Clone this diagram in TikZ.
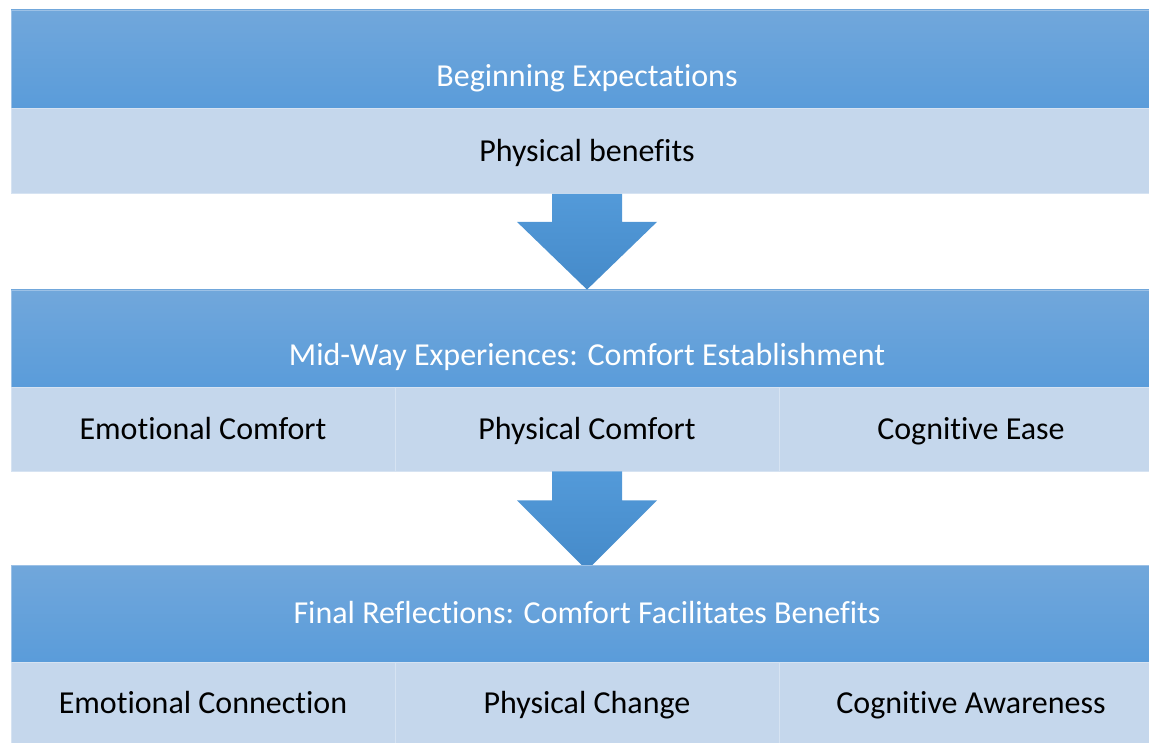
\documentclass[tikz,border=0pt]{standalone}
\usepackage{fontspec}
\setmainfont{Carlito}[Ligatures=NoCommon]
\usepackage{tikz}
\usetikzlibrary{calc}
\definecolor{headtop}{HTML}{71A7DB}
\definecolor{headbot}{HTML}{5A9CDA}
\definecolor{cellfill}{HTML}{C5D7EC}
\definecolor{cellline}{HTML}{D6E3F2}
\definecolor{arrowtop}{HTML}{539AD9}
\definecolor{arrowbot}{HTML}{458AC9}
\tikzstyle{header} = [rectangle, inner sep=0, top color=headtop, bottom color=headbot, draw=headtop!70!white, line width=0.8pt, minimum width=1152pt]
\tikzstyle{headtext} = [inner sep=0, text=white, text height=22pt, text depth=7pt, font=\fontsize{32}{38}\selectfont]
\tikzstyle{cell} = [rectangle, inner sep=0, fill=cellfill, draw=cellline, line width=0.8pt, text=black, text height=22pt, text depth=1pt, font=\fontsize{32}{38}\selectfont]
\tikzstyle{blockarrow} = [top color=arrowtop, bottom color=arrowbot]

\begin{document}
\begin{tikzpicture}[x=1pt, y=-1pt]
    \useasboundingbox (0,0) rectangle (1149,743);
    \clip (0,0) rectangle (1149,743);

    % first stage
    \node (begin) [header, minimum height=98pt] at (587,59) {};
    \node (begintext) [headtext] at (587,79) {Beginning Expectations};
    \node (benefits) [cell, minimum width=1152pt, minimum height=85pt] at (587,151) {Physical benefits};

    % second stage
    \node (mid) [header, minimum height=97pt] at (587,338.5) {};
    \node (midtext) [headtext] at (587,358) {Mid-Way Experiences: Comfort Establishment};
    \node (emocomfort) [cell, minimum width=384pt, minimum height=84pt] at (203,429) {Emotional Comfort};
    \node (phycomfort) [cell, minimum width=384pt, minimum height=84pt] at (587,429) {Physical Comfort};
    \node (cogease) [cell, minimum width=384pt, minimum height=84pt] at (971,429) {Cognitive Ease};

    % arrows between stages
    \shade[blockarrow] ($(benefits.south)+(-35,0)$) -- ($(benefits.south)+(35,0)$) -- ++(0,28) -- ++(35,0)
        -- (mid.north) -- ($(benefits.south)+(-70,28)$) -- ++(35,0) -- cycle;
    \shade[blockarrow] ($(phycomfort.south)+(-35,0)$) -- ($(phycomfort.south)+(35,0)$) -- ++(0,29) -- ++(35,0)
        -- ($(phycomfort.south)+(0,99)$) -- ($(phycomfort.south)+(-70,29)$) -- ++(35,0) -- cycle;

    % third stage
    \node (final) [header, minimum height=97pt] at (587,613.5) {};
    \node (finaltext) [headtext] at (587,616) {Final Reflections: Comfort Facilitates Benefits};
    \node (emoconn) [cell, minimum width=384pt, minimum height=81pt] at (203,702.5) {Emotional Connection};
    \node (phychange) [cell, minimum width=384pt, minimum height=81pt] at (587,702.5) {Physical Change};
    \node (cogaware) [cell, minimum width=384pt, minimum height=81pt] at (971,702.5) {Cognitive Awareness};
\end{tikzpicture}
\end{document}
